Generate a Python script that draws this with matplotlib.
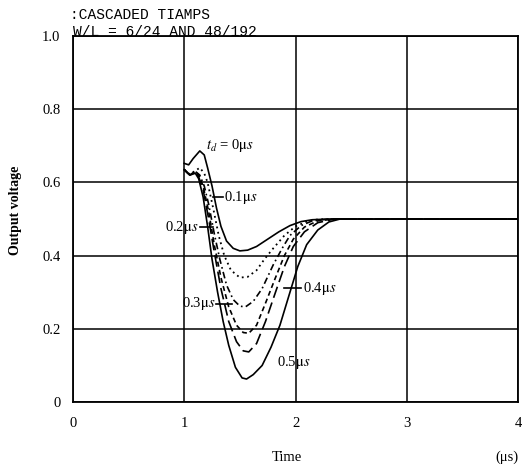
import matplotlib
matplotlib.use("Agg")
import matplotlib.pyplot as plt

plt.rcParams['font.family'] = ['Liberation Serif', 'DejaVu Serif']
plt.rcParams['mathtext.fontset'] = 'stix'

# curves, one per delay td
t_0 = [1.0, 1.04, 1.08, 1.14, 1.18, 1.21, 1.25, 1.29, 1.33, 1.38, 1.44, 1.5, 1.57, 1.65, 1.75, 1.85, 1.95, 2.05, 2.15, 2.3, 4.0]
v_0 = [0.652, 0.648, 0.665, 0.686, 0.675, 0.64, 0.59, 0.53, 0.48, 0.44, 0.42, 0.413, 0.415, 0.425, 0.445, 0.465, 0.482, 0.493, 0.498, 0.5, 0.5]

t_1 = [1.0, 1.05, 1.1, 1.14, 1.18, 1.21, 1.26, 1.31, 1.36, 1.42, 1.5, 1.57, 1.65, 1.72, 1.8, 1.9, 2.0, 2.1, 2.2, 2.35, 4.0]
v_1 = [0.635, 0.622, 0.632, 0.64, 0.625, 0.6, 0.53, 0.455, 0.4, 0.36, 0.34, 0.342, 0.36, 0.39, 0.42, 0.455, 0.48, 0.493, 0.499, 0.5, 0.5]

t_2 = [1.0, 1.05, 1.1, 1.14, 1.18, 1.22, 1.27, 1.32, 1.38, 1.44, 1.5, 1.55, 1.62, 1.7, 1.8, 1.88, 1.95, 2.05, 2.15, 2.3, 4.0]
v_2 = [0.635, 0.62, 0.63, 0.62, 0.59, 0.54, 0.46, 0.39, 0.32, 0.28, 0.262, 0.26, 0.275, 0.31, 0.375, 0.42, 0.455, 0.482, 0.495, 0.5, 0.5]

t_3 = [1.0, 1.05, 1.1, 1.13, 1.17, 1.22, 1.27, 1.33, 1.4, 1.47, 1.53, 1.58, 1.65, 1.73, 1.82, 1.9, 1.98, 2.08, 2.2, 2.35, 4.0]
v_3 = [0.635, 0.62, 0.63, 0.62, 0.59, 0.52, 0.43, 0.34, 0.26, 0.21, 0.19, 0.188, 0.21, 0.27, 0.34, 0.4, 0.445, 0.478, 0.495, 0.5, 0.5]

t_4 = [1.0, 1.05, 1.1, 1.13, 1.17, 1.22, 1.27, 1.33, 1.4, 1.47, 1.53, 1.58, 1.65, 1.73, 1.82, 1.9, 1.98, 2.08, 2.2, 2.35, 4.0]
v_4 = [0.635, 0.62, 0.628, 0.615, 0.58, 0.5, 0.41, 0.31, 0.22, 0.165, 0.14, 0.137, 0.16, 0.22, 0.3, 0.37, 0.425, 0.465, 0.49, 0.5, 0.5]

t_5 = [1.0, 1.05, 1.1, 1.13, 1.17, 1.21, 1.25, 1.3, 1.35, 1.4, 1.46, 1.52, 1.56, 1.62, 1.7, 1.78, 1.86, 1.94, 2.02, 2.1, 2.2, 2.3, 2.4, 4.0]
v_5 = [0.635, 0.62, 0.625, 0.61, 0.56, 0.48, 0.39, 0.3, 0.22, 0.155, 0.095, 0.066, 0.063, 0.075, 0.1, 0.15, 0.21, 0.29, 0.37, 0.43, 0.47, 0.492, 0.5, 0.5]

x_ticks = [0, 1, 2, 3, 4]
y_ticks = [0, 0.2, 0.4, 0.6, 0.8, 1.0]
y_labels = ['0', '0.2', '0.4', '0.6', '0.8', '1.0']

fig = plt.figure(figsize=(5.32, 4.67), dpi=100)
ax = fig.add_axes([0.137, 0.139, 0.837, 0.784])

ax.plot(t_0, v_0, color='black', lw=1.2)
ax.plot(t_1, v_1, color='black', lw=1.3, ls=(0, (1, 2)))
ax.plot(t_2, v_2, color='black', lw=1.2, ls=(0, (4, 2, 1, 2)))
ax.plot(t_3, v_3, color='black', lw=1.2, ls=(0, (3, 2)))
ax.plot(t_4, v_4, color='black', lw=1.2, ls=(0, (7, 3)))
ax.plot(t_5, v_5, color='black', lw=1.2)

ax.set_xlim(0, 4)
ax.set_ylim(0, 1.0)
ax.set_xticks(x_ticks)
ax.set_yticks(y_ticks)
ax.set_yticklabels(y_labels)
ax.tick_params(length=0, labelsize=10.5)
ax.tick_params(axis='y', pad=9)
ax.tick_params(axis='x', pad=11)
ax.grid(True, color='black', lw=1.1)
for s in ax.spines.values():
    s.set_linewidth(1.3)

ax.set_ylabel('Output voltage', fontsize=10, fontweight='bold')
ax.yaxis.set_label_coords(-0.115, 0.525)
ax.text(1.92, -0.15, 'Time', fontsize=10.5, ha='center', va='center')
ax.text(3.90, -0.15, '(\u03bcs)', fontsize=10.5, ha='center', va='center')

# delay labels
ax.text(1.2, 0.70, r'$t_d$ = 0$\mathrm{\mu}s$', fontsize=10.5, va='center')
ax.plot([1.26, 1.35], [0.559, 0.559], color='black', lw=1.2)
ax.text(1.36, 0.559, r'0.1$\mathrm{\mu}s$', fontsize=10.5, va='center')
ax.plot([1.14, 1.26], [0.478, 0.478], color='black', lw=1.2)
ax.text(1.13, 0.478, r'0.2$\mathrm{\mu}s$', fontsize=10.5, va='center', ha='right')
ax.plot([1.29, 1.43], [0.268, 0.268], color='black', lw=1.2)
ax.text(1.28, 0.268, r'0.3$\mathrm{\mu}s$', fontsize=10.5, va='center', ha='right')
ax.plot([1.9, 2.05], [0.311, 0.311], color='black', lw=1.2)
ax.text(2.07, 0.311, r'0.4$\mathrm{\mu}s$', fontsize=10.5, va='center')
ax.text(1.83, 0.107, r'0.5$\mathrm{\mu}s$', fontsize=10.5, va='center')

fig.text(70 / 532, 1 - 15 / 467, ':CASCADED TIAMPS', family='Liberation Mono', fontsize=10.5, va='center')
fig.text(73 / 532, 1 - 32 / 467, 'W/L = 6/24 AND 48/192', family='Liberation Mono', fontsize=10.5, va='center')

fig.savefig('out.png', dpi=100)
